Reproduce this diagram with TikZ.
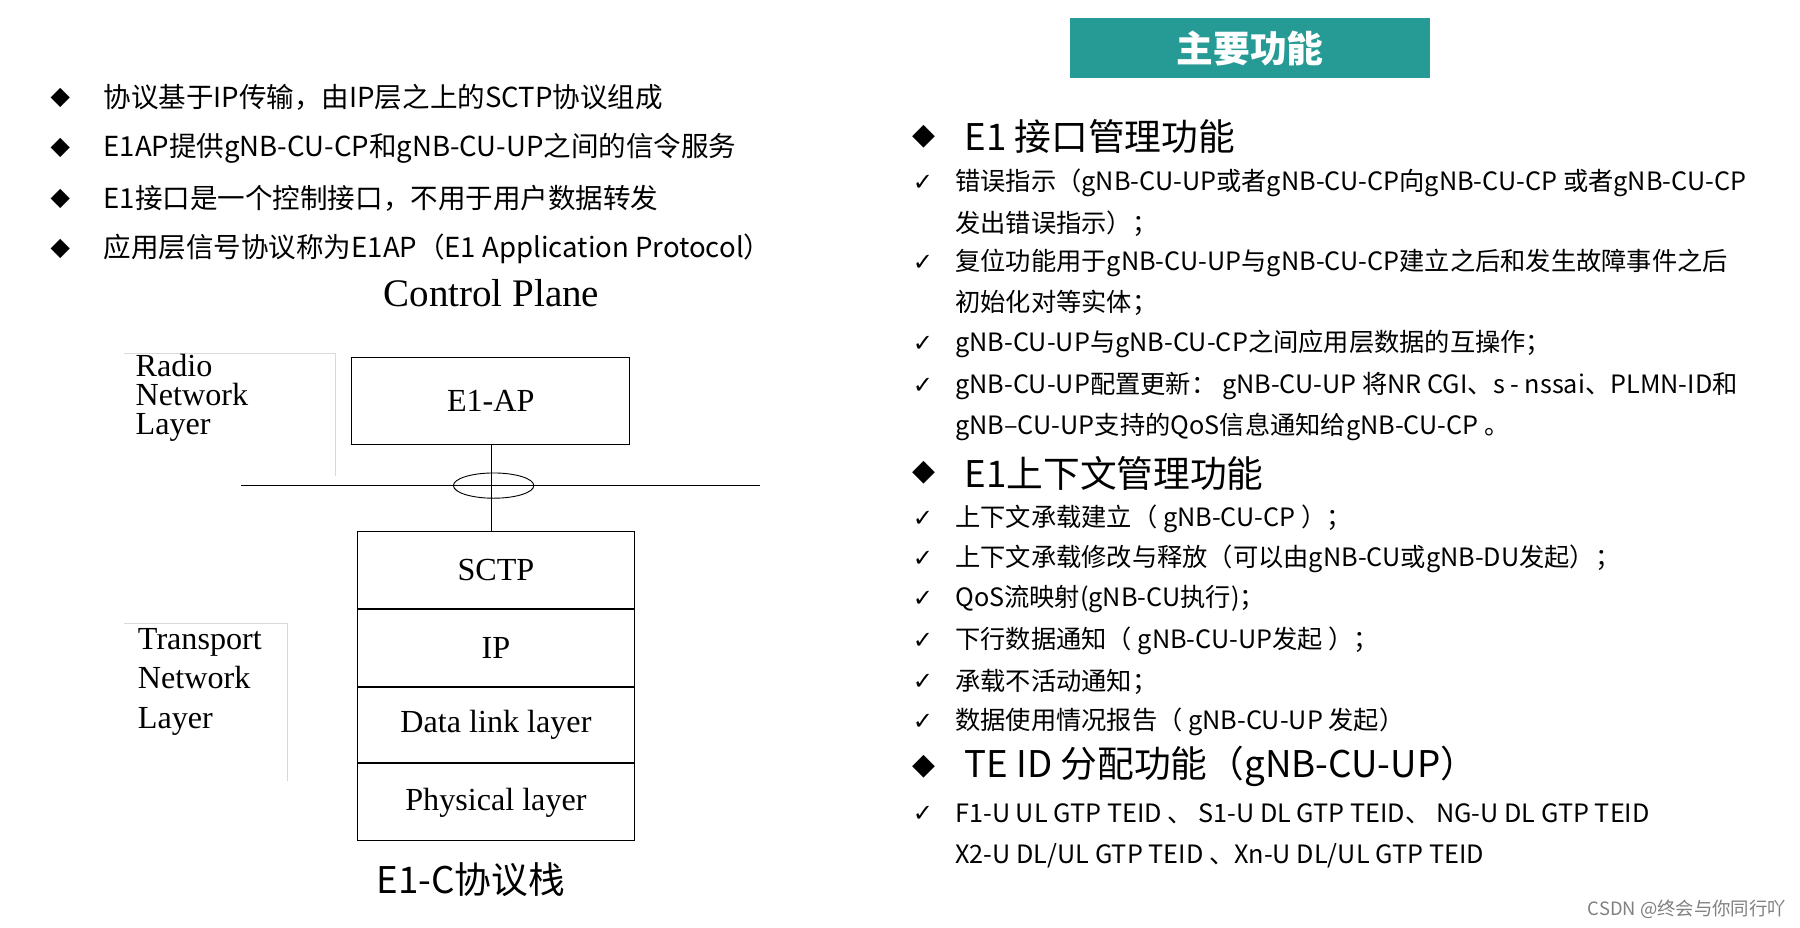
\documentclass[tikz,border=0pt]{standalone}
\usetikzlibrary{shapes.geometric}
\usepackage{fontspec}
\setmainfont{Noto Sans CJK SC}
\newfontfamily\symf{DejaVu Sans}
\newfontfamily\serf{Liberation Serif}
\begin{document}
\begin{tikzpicture}[x=1pt,y=-1pt,
  lb/.style={anchor=west,inner sep=0pt,font=\fontsize{24}{28}\selectfont},
  rb/.style={anchor=west,inner sep=0pt,font=\fontsize{22}{26}\selectfont},
  hd/.style={anchor=west,inner sep=0pt,font=\fontsize{32}{36}\selectfont},
  sf/.style={inner sep=0pt,font=\serf\fontsize{28}{30}\selectfont},
  lay/.style={draw,thick,minimum width=242pt,inner sep=0pt,font=\serf\fontsize{28}{30}\selectfont}]
\useasboundingbox (0,0) rectangle (1568,808);
\fill[white] (0,0) rectangle (1568,808);
% left bullets
\foreach \y/\t [count=\i] in {85/协议基于IP传输，由IP层之上的SCTP协议组成,129/E1AP提供gNB-CU-CP和gNB-CU-UP之间的信令服务,173/E1接口是一个控制接口，不用于用户数据转发,217/应用层信号协议称为E1AP（E1 Application Protocol）}{
  \node[lb,font=\symf\fontsize{22}{24}\selectfont] (ld\i) at (44,\y) {◆};
  \node[lb] (lt\i) at (90,\y) {\t};}
\node[sf,font=\serf\fontsize{34}{36}\selectfont] (cp) at (428,255) {Control Plane};
\draw[gray!30] (108,308) -- (292,308) -- (292,415);
\node[sf,anchor=north west,align=left,font=\serf\fontsize{28}{25.5}\selectfont] (rnl) at (118,308) {Radio\\Network\\Layer};
\node[lay,minimum height=76pt] (ap) at (427.5,349) {E1-AP};
\coordinate (hl) at (210,423); \coordinate (hr) at (662,423);
\draw[thick] (hl) -- (hr);
\node[draw,thick,ellipse,minimum width=70pt,minimum height=22pt,inner sep=0pt] (el) at (430,423) {};
\node[lay,minimum height=67pt] (sctp) at (432,496.5) {SCTP};
\node[lay,minimum height=67pt,anchor=north] (ip) at (sctp.south) {IP};
\node[lay,minimum height=66pt,anchor=north] (dl) at (ip.south) {Data link layer};
\node[lay,minimum height=67pt,anchor=north] (ph) at (dl.south) {Physical layer};
\draw[thick] (ap.south -| 428,0) -- (428,463);
\draw[gray!30] (108,543) -- (250,543) -- (250,680);
\node[sf,anchor=north west,align=left,font=\serf\fontsize{28}{34.5}\selectfont] (tnl) at (120,547) {Transport\\Network\\Layer};
\node[inner sep=0pt,font=\fontsize{32}{36}\selectfont] (cap) at (410,766) {E1-C协议栈};
% right
\node[fill={rgb,255:red,38;green,155;blue,150},minimum width=314pt,minimum height=52pt,text=white,font=\bfseries\fontsize{32}{36}\selectfont] (title) at (1089,42) {主要功能};
\foreach \y/\t [count=\i] in {119/E1 接口管理功能,412/E1上下文管理功能,668/TE ID 分配功能（gNB-CU-UP）}{
  \node[hd,font=\symf\fontsize{26}{28}\selectfont] (rd\i) at (795,\y) {◆};
  \node[hd] (rh\i) at (840,\y) {\t};}
\foreach \y/\t [count=\i] in {159/错误指示（gNB-CU-UP或者gNB-CU-CP向gNB-CU-CP 或者gNB-CU-CP,229/ 复位功能用于gNB-CU-UP与gNB-CU-CP建立之后和发生故障事件之后,300/gNB-CU-UP与gNB-CU-CP之间应用层数据的互操作；,336/gNB-CU-UP配置更新： gNB-CU-UP 将NR CGI、s - nssai、PLMN-ID和,452/上下文承载建立（ gNB-CU-CP ）；,487/上下文承载修改与释放（可以由gNB-CU或gNB-DU发起）；,522/QoS流映射(gNB-CU执行)；,558/下行数据通知（ gNB-CU-UP发起 ）；,594/承载不活动通知；,629/数据使用情况报告（ gNB-CU-UP 发起）,709/F1-U UL GTP TEID 、 S1-U DL GTP TEID、 NG-U DL GTP TEID}{
  \node[rb,font=\symf\fontsize{21}{23}\selectfont] (ck\i) at (795,\y) {✓};
  \node[rb] (rt\i) at (832,\y) {\t};}
\node[rb] (c1) at (832,195) {发出错误指示）；};
\node[rb] (c2) at (832,264) {初始化对等实体；};
\node[rb] (c3) at (832,372) {gNB–CU-UP支持的QoS信息通知给gNB-CU-CP 。};
\node[rb] (c4) at (832,745) {X2-U DL/UL GTP TEID 、Xn-U DL/UL GTP TEID};
\node[anchor=east,inner sep=0pt,text=gray,font=\fontsize{16}{18}\selectfont] (wm) at (1556,792) {CSDN @终会与你同行吖};
\end{tikzpicture}
\end{document}
